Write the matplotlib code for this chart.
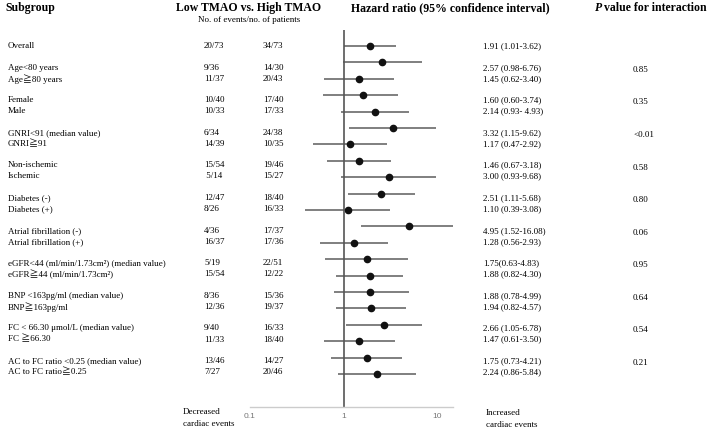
import numpy as np
import matplotlib
matplotlib.use("Agg")
import matplotlib.pyplot as plt

plt.rcParams['font.family'] = ['Liberation Serif', 'Noto Sans CJK JP', 'DejaVu Serif']

# ---- data
overall = ["Overall", "20/73", "34/73", "1.91 (1.01-3.62)"]

labels = [
    ("Age<80 years", "Age\u226780 years"),
    ("Female", "Male"),
    ("GNRI<91 (median value)", "GNRI\u226791"),
    ("Non-ischemic", "Ischemic"),
    ("Diabetes (-)", "Diabetes (+)"),
    ("Atrial fibrillation (-)", "Atrial fibrillation (+)"),
    ("eGFR<44 (ml/min/1.73cm\u00b2) (median value)", "eGFR\u226744 (ml/min/1.73cm\u00b2)"),
    ("BNP <163pg/ml (median value)", "BNP\u2267163pg/ml"),
    ("FC < 66.30 \u03bcmol/L (median value)", "FC \u226766.30"),
    ("AC to FC ratio <0.25 (median value)", "AC to FC ratio\u22670.25"),
]
low_events = [("9/36", "11/37"), ("10/40", "10/33"), ("6/34", "14/39"), ("15/54", " 5/14"),
              ("12/47", "8/26"), ("4/36", "16/37"), ("5/19", "15/54"), ("8/36", "12/36"),
              ("9/40", "11/33"), ("13/46", "7/27")]
high_events = [("14/30", "20/43"), ("17/40", "17/33"), ("24/38", "10/35"), ("19/46", "15/27"),
               ("18/40", "16/33"), ("17/37", "17/36"), ("22/51", "12/22"), ("15/36", "19/37"),
               ("16/33", "18/40"), ("14/27", "20/46")]
hr = [1.91, 2.57, 1.45, 1.60, 2.14, 3.32, 1.17, 1.46, 3.00, 2.51, 1.10,
      4.95, 1.28, 1.75, 1.88, 1.88, 1.94, 2.66, 1.47, 1.75, 2.24]
lo = [1.01, 0.98, 0.62, 0.60, 0.93, 1.15, 0.47, 0.67, 0.93, 1.11, 0.39,
      1.52, 0.56, 0.63, 0.82, 0.78, 0.82, 1.05, 0.61, 0.73, 0.86]
hi = [3.62, 6.76, 3.40, 3.74, 4.93, 9.62, 2.92, 3.18, 9.68, 5.68, 3.08,
      16.08, 2.93, 4.83, 4.30, 4.99, 4.57, 6.78, 3.50, 4.21, 5.84]
hr_text = [("2.57 (0.98-6.76)", "1.45 (0.62-3.40)"), ("1.60 (0.60-3.74)", "2.14 (0.93- 4.93)"),
           ("3.32 (1.15-9.62)", "1.17 (0.47-2.92)"), ("1.46 (0.67-3.18)", "3.00 (0.93-9.68)"),
           ("2.51 (1.11-5.68)", "1.10 (0.39-3.08)"), ("4.95 (1.52-16.08)", "1.28 (0.56-2.93)"),
           ("1.75(0.63-4.83)", "1.88 (0.82-4.30)"), ("1.88 (0.78-4.99)", "1.94 (0.82-4.57)"),
           ("2.66 (1.05-6.78)", "1.47 (0.61-3.50)"), ("1.75 (0.73-4.21)", "2.24 (0.86-5.84)")]
p_vals = ["0.85", "0.35", "<0.01", "0.58", "0.80", "0.06", "0.95", "0.64", "0.54", "0.21"]

W, H = 709, 430
fig = plt.figure(figsize=(W / 100, H / 100), dpi=100)

def fy(py):
    return 1 - py / H

def fx(px):
    return px / W

# forest panel, rows evenly spaced
row0, step = 46, 16.4
ax_top, ax_bot = 30, 407.3
ax = fig.add_axes([fx(250), fy(ax_bot), fx(453) - fx(250), (ax_bot - ax_top) / H])
ax.set_xscale("log")
ax.set_xlim(0.1, 14.6)
ax.set_ylim((ax_bot - row0) / step, (ax_top - row0) / step)
rows = np.arange(len(hr))
hr_a, lo_a, hi_a = np.array(hr), np.array(lo), np.array(hi)
ax.hlines(rows, lo_a, hi_a, color="#6a6a6a", lw=1.2)
ax.plot(hr_a, rows, "o", color="#111111", ms=4.5)
ax.axvline(1, color="#555555", lw=1.2)
for s in ["top", "right", "left"]:
    ax.spines[s].set_visible(False)
ax.spines["bottom"].set_color("#cccccc")
ax.spines["bottom"].set_linewidth(1.0)
ax.set_yticks([])
ax.set_xticks([0.1, 1, 10])
ax.set_xticklabels(["0.1", "1", "10"], family="Liberation Sans")
ax.xaxis.set_minor_locator(matplotlib.ticker.NullLocator())
ax.tick_params(axis="x", length=0, pad=4, labelsize=6, labelcolor="#777777")

# headers
hfs = 8.5
fig.text(fx(5), fy(8), "Subgroup", fontsize=hfs, weight="bold", va="center")
fig.text(fx(249), fy(8), "Low TMAO vs. High TMAO", fontsize=hfs, weight="bold", va="center", ha="center")
fig.text(fx(249), fy(19.5), "No. of events/no. of patients", fontsize=6.5, va="center", ha="center")
fig.text(fx(450), fy(8), "Hazard ratio (95% confidence interval)", fontsize=hfs, weight="bold", va="center", ha="center")
fig.text(fx(595), fy(8), "P", fontsize=hfs, weight="bold", style="italic", va="center")
fig.text(fx(604), fy(8), "value for interaction", fontsize=hfs, weight="bold", va="center")

# text rows
fs = 6.5
x_lab, x_low, x_high, x_hr, x_p = 8, 204, 263, 483, 633

def row_text(py, lab, l, h, t):
    fig.text(fx(x_lab), fy(py), lab, fontsize=fs, va="center")
    fig.text(fx(x_low), fy(py), l, fontsize=fs, va="center")
    fig.text(fx(x_high), fy(py), h, fontsize=fs, va="center")
    fig.text(fx(x_hr), fy(py), t, fontsize=fs, va="center")

row_text(46, *overall)
for g in range(len(labels)):
    py = 67.7 + 32.6 * g
    for k in range(2):
        row_text(py + 11 * k, labels[g][k], low_events[g][k], high_events[g][k], hr_text[g][k])
    fig.text(fx(x_p), fy(py + 2), p_vals[g], fontsize=fs, va="center")

fig.text(fx(183), fy(411.5), "Decreased", fontsize=fs, va="center")
fig.text(fx(183), fy(423.5), "cardiac events", fontsize=fs, va="center")
fig.text(fx(486), fy(413), "Increased", fontsize=fs, va="center")
fig.text(fx(486), fy(425), "cardiac events", fontsize=fs, va="center")

fig.savefig("out.png", dpi=100, facecolor="white")
